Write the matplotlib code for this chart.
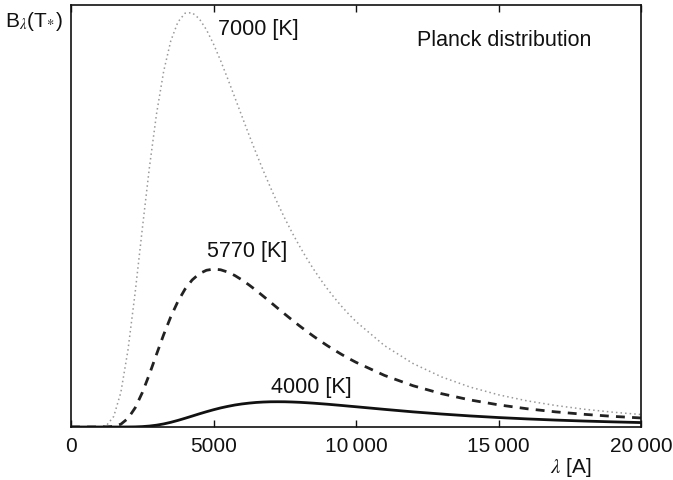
import matplotlib
matplotlib.use("Agg")
import matplotlib.pyplot as plt
from matplotlib.ticker import FuncFormatter

# wavelength grid [A] and curve heights (arbitrary units, 7000 K peak = 1)
wavelength = [0, 250, 500, 750, 1000, 1250, 1500, 1750, 2000, 2250, 2500, 2750,
              3000, 3250, 3500, 3750, 4000, 4250, 4500, 4750, 5000, 5250, 5500,
              5750, 6000, 6250, 6500, 6750, 7000, 7250, 7500, 7750, 8000, 8250,
              8500, 8750, 9000, 9250, 9500, 9750, 10000, 11000, 12000, 13000,
              14000, 15000, 16000, 17000, 18000, 19000, 20000]

b_7000 = [0, 0, 0, 0, 0.0002, 0.0041, 0.0256, 0.0836, 0.1861, 0.3236, 0.4764, 0.6249,
          0.7543, 0.8568, 0.9303, 0.9758, 0.9972, 0.9985, 0.9839, 0.9576, 0.9229, 0.8827, 0.8390,
          0.7938, 0.7483, 0.7030, 0.6594, 0.6171, 0.5770, 0.5389, 0.5030, 0.4694, 0.4381, 0.4087,
          0.3814, 0.3561, 0.3325, 0.3106, 0.2904, 0.2716, 0.2541, 0.1961, 0.1530, 0.1208,
          0.0963, 0.0776, 0.0631, 0.0519, 0.0429, 0.0358, 0.0301]

b_5770 = [0, 0, 0, 0, 0, 0, 0.0014, 0.0068, 0.0208, 0.0461, 0.0826, 0.1269,
          0.1750, 0.2223, 0.2655, 0.3025, 0.3322, 0.3543, 0.3693, 0.3777, 0.3806, 0.3789, 0.3734,
          0.3650, 0.3544, 0.3422, 0.3290, 0.3150, 0.3008, 0.2864, 0.2722, 0.2583, 0.2447, 0.2317,
          0.2192, 0.2072, 0.1958, 0.1850, 0.1747, 0.1650, 0.1559, 0.1243, 0.0995, 0.0803,
          0.0652, 0.0534, 0.0440, 0.0365, 0.0306, 0.0257, 0.0218]

b_4000 = [0, 0, 0, 0, 0, 0, 0, 0, 0.0001, 0.0003, 0.0010, 0.0023,
          0.0044, 0.0074, 0.0113, 0.0159, 0.0210, 0.0263, 0.0317, 0.0368, 0.0416, 0.0460, 0.0497,
          0.0530, 0.0556, 0.0576, 0.0592, 0.0602, 0.0608, 0.0609, 0.0608, 0.0603, 0.0596, 0.0586,
          0.0575, 0.0562, 0.0549, 0.0534, 0.0519, 0.0503, 0.0488, 0.0425, 0.0365, 0.0313,
          0.0267, 0.0228, 0.0195, 0.0167, 0.0144, 0.0124, 0.0107]

x_ticks = [0, 5000, 10000, 15000, 20000]

plt.rcParams["font.family"] = ["Liberation Sans", "DejaVu Sans"]
plt.rcParams["mathtext.fontset"] = "stix"

fig = plt.figure(figsize=(6.73, 4.80), dpi=100)
ax = fig.add_axes([0.1055, 0.1104, 0.847, 0.8792])

ax.plot(wavelength, b_7000, color="#999999", lw=1.1, linestyle=(0, (1, 2)))
ax.plot(wavelength, b_5770, color="#222222", lw=2.0, linestyle=(0, (3.2, 2.6)))
ax.plot(wavelength, b_4000, color="#111111", lw=2.0)

ax.set_xlim(0, 20000)
ax.set_ylim(0, 1.017)

ax.set_xticks(x_ticks)
ax.xaxis.set_major_formatter(FuncFormatter(
    lambda v, p: f"{int(v)}" if v < 10000 else f"{int(v):,}".replace(",", "\u2009")))
ax.tick_params(axis="x", direction="in", top=True, length=5, width=1,
               labelsize=15, pad=7, colors="#111111")
ax.set_yticks([])
for s in ax.spines.values():
    s.set_linewidth(1.2)
    s.set_color("#111111")

fs = 15.5
ax.text(5150, 0.957, "7000 [K]", fontsize=fs, va="center", color="#111111")
ax.text(4770, 0.424, "5770 [K]", fontsize=fs, va="center", color="#111111")
ax.text(7020, 0.0964, "4000 [K]", fontsize=fs, va="center", color="#111111")
ax.text(12140, 0.932, "Planck distribution", fontsize=fs, va="center", color="#111111")

fig.text(0.008, 0.955, r"B$_{\lambda}$(T$_{{*}}$)", fontsize=15, va="center", color="#111111")
fig.text(0.817, 0.027, r"$\lambda$ [A]", fontsize=15, va="center", color="#111111")

fig.savefig("out.png", dpi=100)
